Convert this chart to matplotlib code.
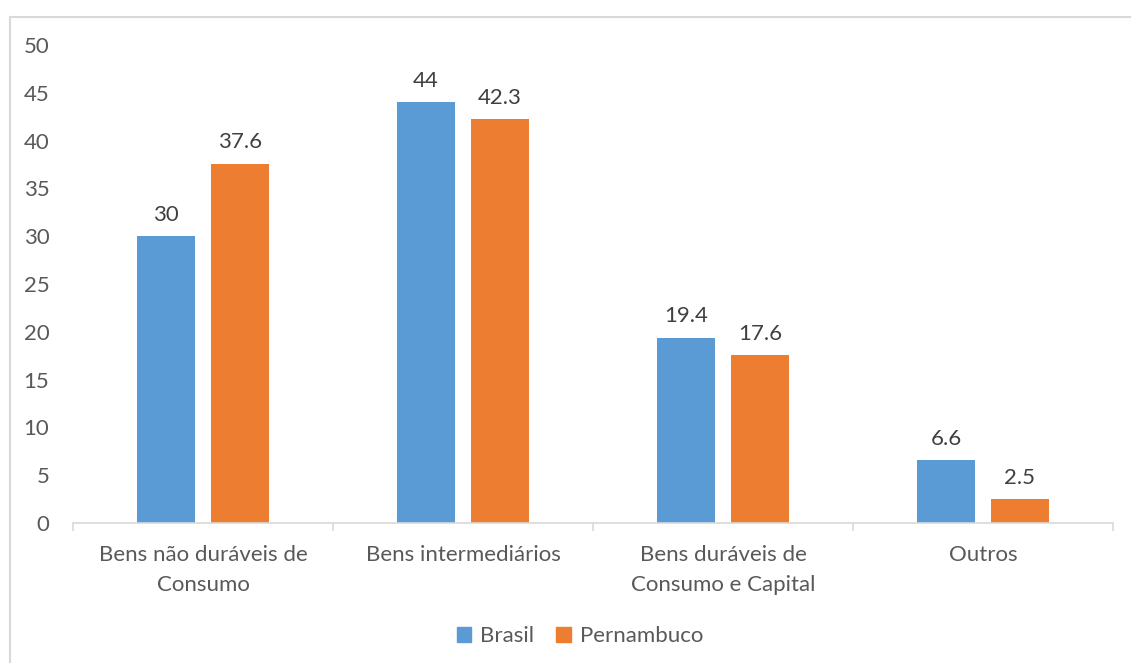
import matplotlib
matplotlib.use("Agg")
import matplotlib.pyplot as plt
import numpy as np
from matplotlib.lines import Line2D
from matplotlib.patches import Patch

categories = ["Bens não duráveis de\nConsumo", "Bens intermediários",
              "Bens duráveis de\nConsumo e Capital", "Outros"]
brasil = [30, 44, 19.4, 6.6]
pernambuco = [37.6, 42.3, 17.6, 2.5]
series_names = ["Brasil", "Pernambuco"]
yticks = [0, 5, 10, 15, 20, 25, 30, 35, 40, 45, 50]

BLUE = "#5B9BD5"
ORANGE = "#ED7D31"
TXT = "#595959"
FS = 16

plt.rcParams['font.family'] = ['Lato', 'DejaVu Sans']

W, H = 1131, 663
fig = plt.figure(figsize=(W / 100, H / 100), dpi=100)
ax = fig.add_axes([73 / W, 1 - 523 / H, (1113 - 73) / W, (523 - 45) / H])

x = np.arange(len(categories))
bw = 0.223
off = 0.142
b1 = ax.bar(x - off, brasil, bw, color=BLUE, label=series_names[0])
b2 = ax.bar(x + off, pernambuco, bw, color=ORANGE, label=series_names[1])

for bars, vals in ((b1, brasil), (b2, pernambuco)):
    for r, v in zip(bars, vals):
        ax.annotate(f"{v:g}", (r.get_x() + r.get_width() / 2, v),
                    xytext=(0, 8), textcoords="offset points",
                    ha="center", va="bottom", fontsize=FS, color="#404040")

ax.set_xlim(-0.5, len(categories) - 0.5)
ax.set_ylim(0, 50)
ax.set_yticks(yticks)
ax.set_yticklabels([str(t) for t in yticks], fontsize=FS, color=TXT)
ax.tick_params(axis="y", length=0, pad=17)

ax.set_xticks(x)
ax.set_xticklabels(categories, fontsize=FS, color=TXT, linespacing=1.6)
ax.tick_params(axis="x", length=0, pad=16)
ax.set_xticks(np.arange(len(categories) + 1) - 0.5, minor=True)
ax.tick_params(axis="x", which="minor", length=6, color="#D9D9D9", width=1.2)

for s in ["top", "right", "left"]:
    ax.spines[s].set_visible(False)
ax.spines["bottom"].set_color("#D9D9D9")
ax.spines["bottom"].set_linewidth(1.2)

handles = [Patch(color=BLUE), Patch(color=ORANGE)]
fig.legend(handles, series_names, loc="center", bbox_to_anchor=(580 / W, 1 - 636 / H),
           ncol=2, frameon=False, fontsize=FS, labelcolor=TXT,
           handlelength=0.65, handleheight=0.65, handletextpad=0.4, columnspacing=1.0)

# outer chart frame
fig.add_artist(Line2D([9.5 / W, 9.5 / W], [1 - 16.5 / H, -0.01], transform=fig.transFigure,
                      color="#D9D9D9", lw=1.5))
fig.add_artist(Line2D([9.5 / W, 1.01], [1 - 16.5 / H, 1 - 16.5 / H], transform=fig.transFigure,
                      color="#D9D9D9", lw=1.5))

fig.savefig("out.png", dpi=100)
